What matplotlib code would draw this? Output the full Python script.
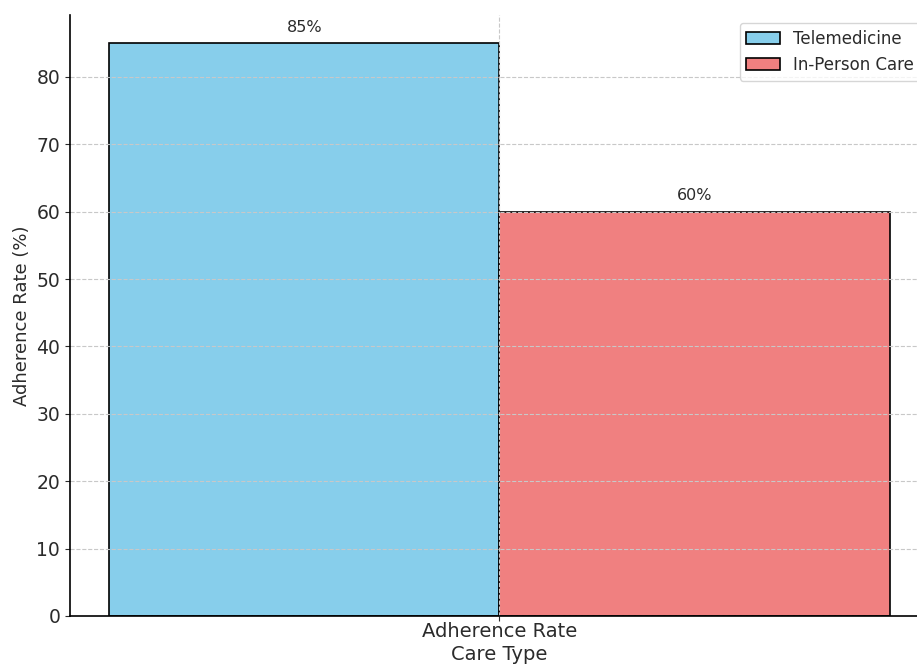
import numpy as np
import matplotlib
matplotlib.use('Agg')
import matplotlib.pyplot as plt

# adherence rates per care type
categories = ['Adherence Rate']
care_types = ['Telemedicine', 'In-Person Care']
rates = [85, 60]
colors = ['skyblue', 'lightcoral']

plt.rcParams['text.color'] = '#2b2b2b'
plt.rcParams['axes.labelcolor'] = '#2b2b2b'
plt.rcParams['xtick.color'] = '#2b2b2b'
plt.rcParams['ytick.color'] = '#2b2b2b'

fig = plt.figure(figsize=(9.17, 6.66), dpi=100)
ax = fig.add_axes([0.0763, 0.0751, 0.9367, 0.903])

x = np.arange(len(categories))
width = 0.35
for i in range(len(care_types)):
	pos = x + (i - 0.5) * width
	bars = ax.bar(pos, [rates[i]], width, color=colors[i], edgecolor='black',
		linewidth=1.2, label=care_types[i])
	for b in bars:
		h = b.get_height()
		ax.annotate('%d%%' % h, xy=(b.get_x() + b.get_width() / 2, h),
			xytext=(0, 6), textcoords='offset points', ha='center', va='bottom',
			fontsize=11.5)

ax.set_xticks(x)
ax.set_xticklabels(categories, fontsize=14)
ax.tick_params(axis='y', labelsize=13.5)
ax.tick_params(axis='x', pad=1)
ax.set_xlabel('Care Type', fontsize=14, labelpad=3)
ax.set_ylabel('Adherence Rate (%)', fontsize=13)
ax.grid(True, linestyle='--', color='#c8c8c8', linewidth=0.8)
ax.spines['top'].set_visible(False)
ax.spines['right'].set_visible(False)
ax.spines['left'].set_linewidth(1.2)
ax.spines['bottom'].set_linewidth(1.2)
ax.legend(loc='upper right', fontsize=12, framealpha=0.8)

plt.savefig('out.png', dpi=100)
